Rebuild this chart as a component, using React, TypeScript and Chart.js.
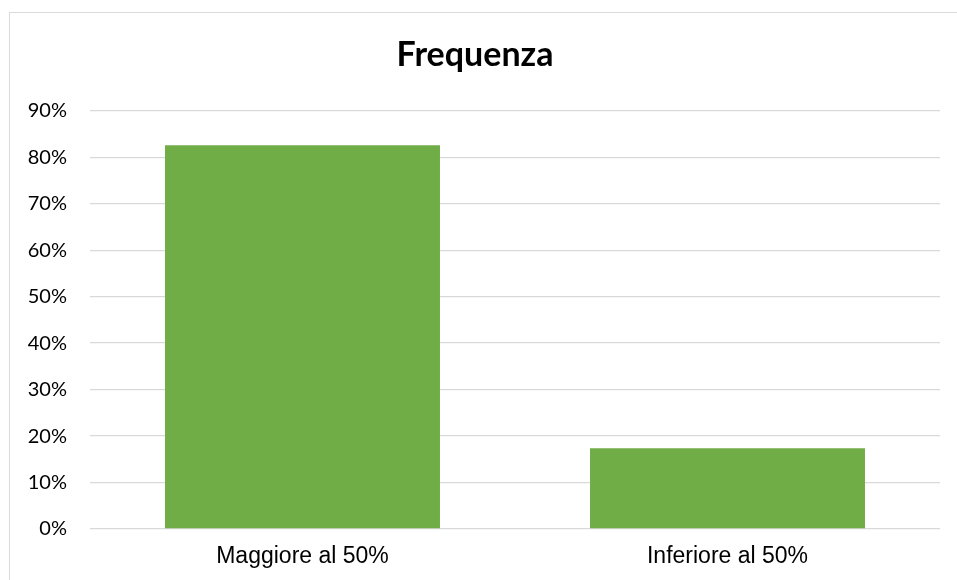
import React, { useEffect, useRef } from "react";
import { Chart, registerables } from "chart.js";

Chart.register(...registerables);

const categories = ["Maggiore al 50%", "Inferiore al 50%"];
const frequencyValues = [82.6, 17.4];
const chartTitle = "Frequenza";
const yMax = 90;
const yStep = 10;

export default function App() {
  const canvasRef = useRef<HTMLCanvasElement | null>(null);

  useEffect(() => {
    document.body.style.margin = "0";
    document.body.style.overflow = "hidden";
    const ctx = canvasRef.current!;
    const chart = new Chart(ctx, {
      type: "bar",
      data: {
        labels: categories,
        datasets: [
          {
            label: chartTitle,
            data: frequencyValues,
            backgroundColor: "#70AD47",
            borderWidth: 0,
            barPercentage: 0.647,
            categoryPercentage: 1,
          },
        ],
      },
      options: {
        animation: false,
        responsive: false,
        maintainAspectRatio: false,
        layout: { padding: { top: 0, right: 17, bottom: 0, left: 0 } },
        plugins: {
          legend: { display: false },
          tooltip: { enabled: false },
          title: {
            display: true,
            text: chartTitle,
            color: "#000000",
            font: { family: "Lato", size: 34, weight: "bold", lineHeight: 1.2 },
            padding: { top: 22, bottom: 35 },
          },
        },
        scales: {
          x: {
            grid: { display: false, drawTicks: false },
            border: { display: false },
            ticks: {
              color: "#000000",
              font: { family: "'Liberation Sans', Arial, sans-serif", size: 23 },
              padding: 14,
              maxRotation: 0,
            },
            afterFit: (s: any) => {
              s.height = 51;
            },
          },
          y: {
            min: 0,
            max: yMax,
            grid: { color: "#d9d9d9", lineWidth: 1.3, drawTicks: false },
            border: { display: false },
            ticks: {
              stepSize: yStep,
              color: "#000000",
              font: { family: "Lato", size: 20 },
              padding: 23,
              callback: (v: any) => `${v}%`,
            },
            afterFit: (s: any) => {
              s.width = 80;
            },
          },
        },
      },
    });
    return () => chart.destroy();
  }, []);

  return (
    <div
      style={{
        position: "absolute",
        left: 9,
        top: 12,
        width: 948,
        height: 568,
        borderLeft: "1px solid #d9d9d9",
        borderTop: "1px solid #d9d9d9",
        background: "#fff",
      }}
    >
      <canvas ref={canvasRef} width={947} height={567} style={{ display: "block" }} />
    </div>
  );
}
